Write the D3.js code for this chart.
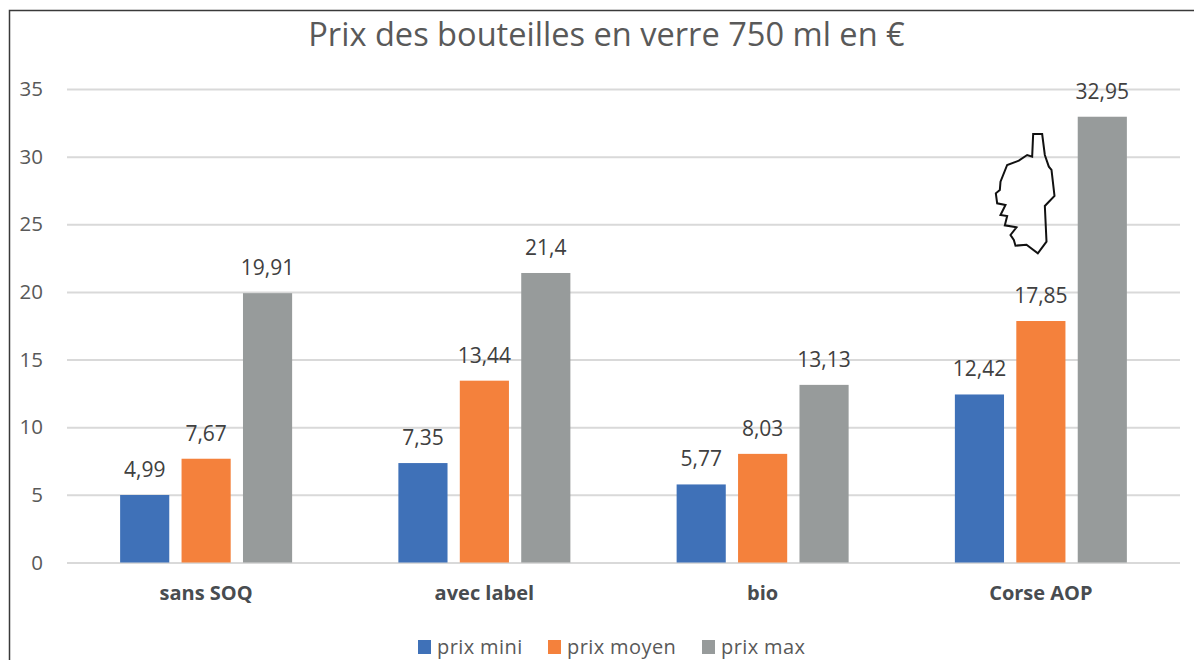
<!DOCTYPE html>
<html><head><meta charset="utf-8">
<script src="https://cdn.jsdelivr.net/npm/d3@7"></script>
<style>html,body{margin:0;background:#fff}svg{display:block}text{font-family:"Open Sans",sans-serif}</style>
</head><body><div id="c"></div>
<script>
const categories = ["sans SOQ","avec label","bio","Corse AOP"];
const seriesNames = ["prix mini","prix moyen","prix max"];
const prixMini = [4.99,7.35,5.77,12.42];
const prixMoyen = [7.67,13.44,8.03,17.85];
const prixMax = [19.91,21.4,13.13,32.95];
const labelsMini = ["4,99","7,35","5,77","12,42"];
const labelsMoyen = ["7,67","13,44","8,03","17,85"];
const labelsMax = ["19,91","21,4","13,13","32,95"];
const yTicks = [0,5,10,15,20,25,30,35];
const colors = ["#3f71b8","#f4813c","#979b9b"];
const title = "Prix des bouteilles en verre 750 ml en €";
// Outline of Corsica (decorative drawing), in its own unit grid
const corsica = [[248,192],[275,192],[283,255],[295,290],[303,300],[312,378],[283,408],[288,515],[262,550],[228,524],[195,527],[190,510],[180,495],[198,472],[163,466],[170,438],[150,435],[165,405],[140,400],[136,370],[148,360],[150,335],[170,285],[205,272],[230,255],[245,260]];

const W=1194,H=660;
const svg=d3.select("#c").append("svg").attr("width",W).attr("height",H);
const x=d3.scaleBand().domain(categories).range([67,1180]).padding(0);
const y=d3.scaleLinear().domain([0,35]).range([562.5,89]);
const inner=d3.scaleBand().domain([0,1,2]).range([-86,86]).paddingInner(0.2).paddingOuter(0);

// frame: left and top edges only
svg.append("path").attr("d",`M9.5,${H}V10.5H${W}`).attr("fill","none").attr("stroke","#3a3a3a").attr("stroke-width",1.5);

// grid
svg.append("g").attr("transform","translate(67,0)")
 .call(d3.axisLeft(y).tickValues(yTicks).tickSize(-(1180-67)).tickPadding(24))
 .call(g=>g.select(".domain").remove())
 .call(g=>g.selectAll("line").attr("stroke","#d9d9d9").attr("stroke-width",2))
 .call(g=>g.selectAll("text").attr("fill","#595959").attr("font-size",20.5));

const series=[prixMini,prixMoyen,prixMax], labels=[labelsMini,labelsMoyen,labelsMax];
series.forEach((vals,s)=>{
  const g=svg.append("g");
  g.selectAll("rect").data(vals).join("rect")
   .attr("x",(d,i)=>x(categories[i])+x.bandwidth()/2+inner(s))
   .attr("width",inner.bandwidth())
   .attr("y",d=>y(d)).attr("height",d=>y(0)-y(d)).attr("fill",colors[s]);
  g.selectAll("text").data(vals).join("text")
   .attr("x",(d,i)=>x(categories[i])+x.bandwidth()/2+inner(s)+inner.bandwidth()/2)
   .attr("y",d=>y(d)-18).attr("text-anchor","middle")
   .attr("font-size",21).attr("fill","#404040")
   .text((d,i)=>labels[s][i]);
});

// category labels
svg.append("g").selectAll("text").data(categories).join("text")
 .attr("x",d=>x(d)+x.bandwidth()/2).attr("y",600).attr("text-anchor","middle")
 .attr("font-size",20).attr("font-weight",700).attr("fill","#484c50").text(d=>d);

// title
svg.append("text").attr("x",606.5).attr("y",46).attr("text-anchor","middle")
 .attr("font-size",32.6).attr("fill","#595959").text(title);

// legend
const legendX=[418,548,702];
const lg=svg.append("g").selectAll("g").data(seriesNames).join("g")
 .attr("transform",(d,i)=>`translate(${legendX[i]},640)`);
lg.append("rect").attr("width",13).attr("height",14).attr("fill",(d,i)=>colors[i]);
lg.append("text").attr("x",19).attr("y",14).attr("font-size",20).attr("letter-spacing",0.4).attr("fill","#595959").text(d=>d);

// Corsica outline
const cx=d3.scaleLinear().domain([0,3]).range([950.5,951.5]);
const cy=d3.scaleLinear().domain([0,3]).range([70,71]);
svg.append("path").datum(corsica)
 .attr("d",d3.line().x(d=>cx(d[0])).y(d=>cy(d[1])).curve(d3.curveLinearClosed))
 .attr("fill","none").attr("stroke","#111").attr("stroke-width",2);
</script></body></html>
